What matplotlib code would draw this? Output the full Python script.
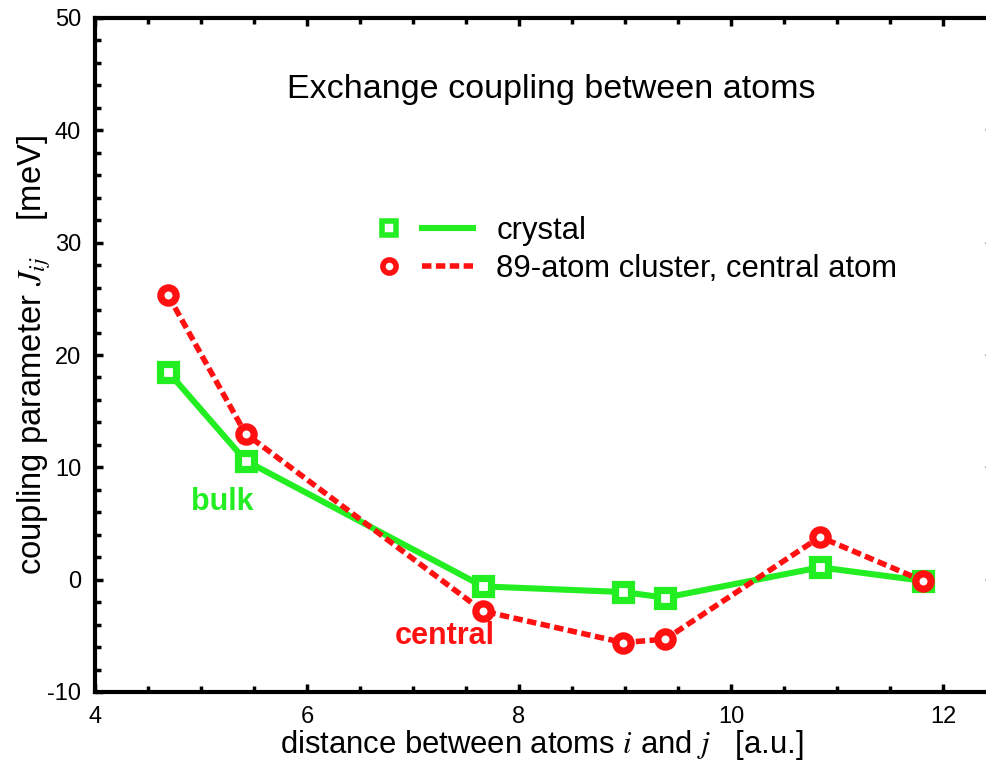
import matplotlib
matplotlib.use("Agg")
import matplotlib.pyplot as plt
from matplotlib.lines import Line2D
from matplotlib.ticker import MultipleLocator

plt.rcParams['font.family'] = ['Liberation Sans', 'DejaVu Sans']
plt.rcParams['mathtext.fontset'] = 'stix'
plt.rcParams['axes.unicode_minus'] = False

# distances between atoms i and j [a.u.]
dist = [4.69, 5.42, 7.66, 8.98, 9.38, 10.84, 11.81]
# coupling parameter J_ij [meV]
j_crystal = [18.5, 10.6, -0.6, -1.1, -1.6, 1.1, -0.1]
j_cluster = [25.3, 13.0, -2.8, -5.6, -5.3, 3.8, -0.1]

green = '#22ee22'
red = '#ff1111'
dash = (0, (1.7, 0.8))


class SplitHandler:
    # marker on the left, a short gap, then the line piece
    def legend_artist(self, legend, orig_handle, fontsize, handlebox):
        mk, ln, style = orig_handle
        x0, y0 = -handlebox.xdescent, -handlebox.ydescent
        w, h = handlebox.width, handlebox.height
        yc = y0 + h / 2
        m = Line2D([x0 + 0.10 * w], [yc], ls='none', marker=mk.get_marker(),
                   ms=mk.get_markersize(), mfc='white',
                   mec=mk.get_markeredgecolor(), mew=mk.get_markeredgewidth())
        l = Line2D([x0 + 0.45 * w, x0 + w], [yc, yc], color=ln.get_color(),
                   lw=ln.get_linewidth(), ls=style)
        handlebox.add_artist(l)
        handlebox.add_artist(m)
        return l


fig = plt.figure(figsize=(9.86, 7.63), dpi=100)
# axes run past the right edge of the picture, as in the original
ax = fig.add_axes([95 / 986, 1 - 692 / 763, 893 / 986, 674 / 763])

ax.plot(dist, j_crystal, color=green, lw=4.4, marker='s', ms=11,
        mfc='white', mec=green, mew=5.2, zorder=3)
ax.plot(dist, j_cluster, color=red, lw=4.0, ls=dash, marker='o',
        ms=11, mfc='white', mec=red, mew=5.2, zorder=4)

ax.set_xlim(4, 4 + 893 / 106)
ax.set_ylim(-10, 50)
ax.set_xticks([4, 6, 8, 10, 12])
ax.xaxis.set_minor_locator(MultipleLocator(0.5))
ax.yaxis.set_major_locator(MultipleLocator(10))
ax.yaxis.set_minor_locator(MultipleLocator(2))

for s in ['left', 'top', 'bottom']:
    ax.spines[s].set_linewidth(3)
ax.spines['right'].set_visible(False)
ax.tick_params(which='both', direction='in', top=True, right=False,
               labelsize=17, width=2.5)
ax.tick_params(which='major', length=6, pad=10)
ax.tick_params(which='minor', length=4)

# faint marks at the right edge
for v in [0, 10, 20, 30, 40]:
    ax.plot([0.998, 1.0], [v, v], color='#bbbbbb', lw=1.5,
            transform=ax.get_yaxis_transform(), clip_on=False)

ax.set_xlabel(r'distance between atoms $\mathit{i}$ and $\mathit{j}$   [a.u.]',
              fontsize=22.3, labelpad=0)
ax.set_ylabel(r'coupling parameter $\mathit{J}_{ij}$    [meV]', fontsize=23.6,
              labelpad=-4)

ax.text(8.3, 43.6, 'Exchange coupling between atoms', fontsize=24.5,
        ha='center', va='center')
ax.text(5.2, 6.9, 'bulk', color=green, fontsize=22, fontweight='bold',
        ha='center', va='center')
ax.text(7.3, -5.0, 'central', color=red, fontsize=22, fontweight='bold',
        ha='center', va='center')

h_sq = Line2D([], [], ls='none', marker='s', ms=9.5, mec=green, mew=4)
h_gl = Line2D([], [], color=green, lw=4.4)
h_ci = Line2D([], [], ls='none', marker='o', ms=9.5, mec=red, mew=4)
h_rl = Line2D([], [], color=red, lw=4.0)
ax.legend([(h_sq, h_gl, '-'), (h_ci, h_rl, dash)],
          ['crystal', '89-atom cluster, central atom'],
          handler_map={tuple: SplitHandler()},
          handlelength=3.0, fontsize=22.3, frameon=False, loc='upper left',
          bbox_to_anchor=(380 / 986, 1 - 216 / 763),
          bbox_transform=fig.transFigure, borderpad=0, borderaxespad=0,
          labelspacing=0.26, handletextpad=0.75)

fig.savefig('out.png', dpi=100)
